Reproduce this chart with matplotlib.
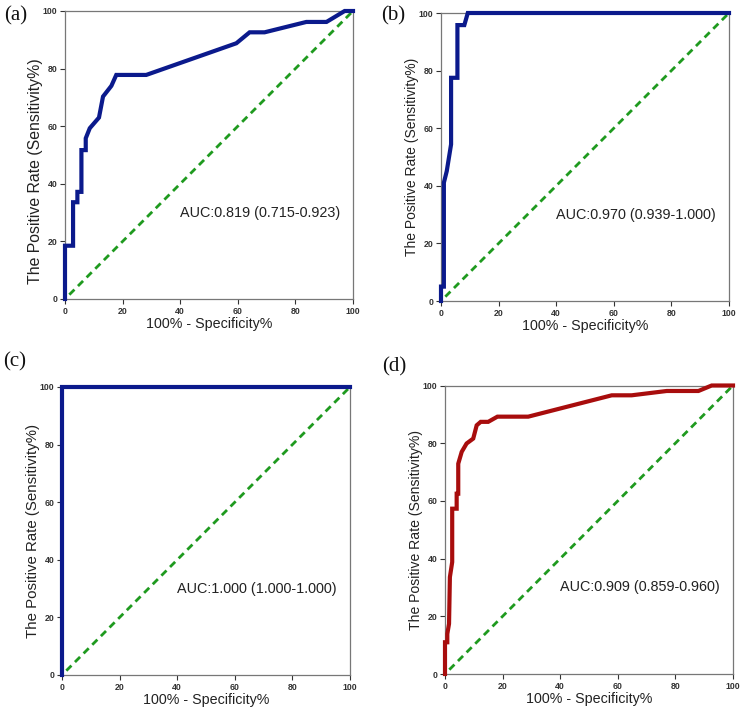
import matplotlib
matplotlib.use("Agg")
import matplotlib.pyplot as plt

# ---- data ----
fpr_a = [0, 0, 2.8, 2.8, 4.3, 4.3, 5.7, 5.7, 7.2, 7.2, 8.6, 11.8, 13.2, 16.1, 17.8, 28.2,
         59.5, 64.1, 69.3, 83.8, 90.8, 97.1, 100]
tpr_a = [0, 18.5, 18.5, 33.6, 33.6, 37.2, 37.2, 51.7, 51.7, 55.8, 59.3, 63.0, 70.3, 74.0, 77.8, 77.8,
         88.8, 92.6, 92.6, 96.2, 96.2, 100, 100]

fpr_b = [0, 0, 1.0, 1.0, 2.0, 3.5, 3.5, 5.7, 5.7, 8.1, 9.3, 100]
tpr_b = [0, 5.0, 5.0, 41.1, 45.1, 54.4, 77.5, 77.5, 95.8, 95.8, 100, 100]

fpr_c = [0, 0, 100]
tpr_c = [0, 100, 100]

fpr_d = [0, 0, 0.8, 0.8, 1.4, 1.7, 2.5, 2.5, 4.05, 4.05, 4.6, 4.6, 5.8, 7.5, 9.8, 11.0, 12.4,
         15.0, 18.2, 28.9, 57.9, 64.8, 77.0, 88.0, 92.6, 100]
tpr_d = [0, 11.0, 11.0, 13.9, 17.4, 33.6, 38.8, 57.3, 57.3, 62.5, 62.5, 72.9, 77.0, 79.9, 81.6, 86.2, 87.4,
         87.4, 89.2, 89.2, 96.6, 96.6, 98.1, 98.1, 100, 100]

panel_labels = ["(a)", "(b)", "(c)", "(d)"]
auc_texts = ["AUC:0.819 (0.715-0.923)", "AUC:0.970 (0.939-1.000)",
             "AUC:1.000 (1.000-1.000)", "AUC:0.909 (0.859-0.960)"]
ticks = [0, 20, 40, 60, 80, 100]
xlabel = "100% - Specificity%"
ylabel = "The Positive Rate (Sensitivity%)"

curves = [(fpr_a, tpr_a), (fpr_b, tpr_b), (fpr_c, tpr_c), (fpr_d, tpr_d)]
colors = ["#0b1a8c", "#0b1a8c", "#0b1a8c", "#a80d0d"]

W, H = 745, 717
fig = plt.figure(figsize=(W / 100, H / 100), dpi=100)
plt.rcParams['font.family'] = ['Liberation Sans', 'DejaVu Sans']

# axes boxes in pixels: left, right, top, bottom
boxes = [(65, 353, 11, 299), (441, 729, 13, 301), (62, 350, 387, 675), (445, 733, 385.5, 674)]
label_pos = [(4, 16), (381, 16), (3, 362), (382, 367)]
ylab_size = [11.4, 10.0, 10.8, 10.1]
ylab_y = [0.445, 0.5, 0.5, 0.5]

for i, (l, r, t, b) in enumerate(boxes):
    ax = fig.add_axes([l / W, 1 - b / H, (r - l) / W, (b - t) / H])
    fx, ty = curves[i]
    ax.plot([1.5, 100], [1.5, 100], color="#1f9a1f", lw=2.0, dashes=(2.6, 1.8), zorder=2)
    ax.plot(fx, ty, color=colors[i], lw=3.0, solid_joinstyle="miter", clip_on=False, zorder=3)
    ax.set_xlim(0, 100)
    ax.set_ylim(0, 100)
    ax.set_xticks(ticks)
    ax.set_yticks(ticks)
    ax.tick_params(direction="out", length=3.5, width=0.8, labelsize=6.3, colors="#333333", pad=2)
    for lab in ax.get_xticklabels() + ax.get_yticklabels():
        lab.set_fontweight("bold")
    for s in ax.spines.values():
        s.set_color("#777777")
        s.set_linewidth(0.9)
    ax.set_xlabel(xlabel, fontsize=10.3, color="#222222", labelpad=1)
    ax.set_ylabel(ylabel, fontsize=ylab_size[i], color="#222222")
    ax.yaxis.set_label_coords(-22 / 288, ylab_y[i])
    ax.text(40, 30, auc_texts[i], fontsize=10.4, color="#222222", ha="left", va="center")
    px, py = label_pos[i]
    fig.text(px / W, 1 - py / H, panel_labels[i], fontsize=15, family="Liberation Serif",
             ha="left", va="center", color="#111111")

fig.savefig("out.png", dpi=100)
